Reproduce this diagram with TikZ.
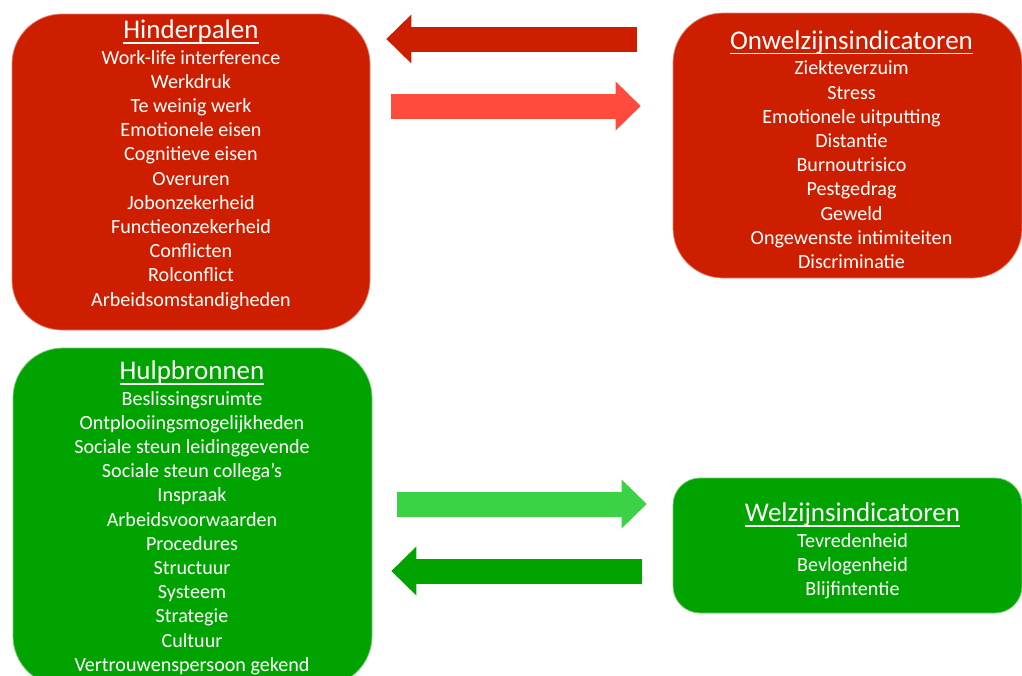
\documentclass[tikz,border=0pt]{standalone}
\usepackage{fontspec}
\setmainfont{Carlito}
\usetikzlibrary{arrows.meta,positioning}
\definecolor{hinderred}{RGB}{205,30,0}
\definecolor{lightred}{RGB}{255,75,62}
\definecolor{hulpgreen}{RGB}{0,163,0}
\definecolor{lightgreen}{RGB}{60,210,70}
\tikzstyle{redbox} = [rectangle, rounded corners=50pt, fill=hinderred, draw=hinderred!55!white, line width=0.75pt]
\tikzstyle{greenbox} = [rectangle, rounded corners=50pt, fill=hulpgreen, draw=hulpgreen!55!white, line width=0.75pt]
\tikzstyle{list} = [text=white, align=center, inner sep=0pt, anchor=north, font=\fontsize{20.1}{24.2}\selectfont]
\tikzstyle{blockarrow} = [line width=25pt, -{Triangle[length=25pt,width=49pt,line width=0pt]}]
\newsavebox\titlebox
\newcommand{\boxtitle}[1]{\sbox\titlebox{\fontsize{27}{24.2}\selectfont #1}\rlap{\rule[-4.6pt]{\wd\titlebox}{1.4pt}}\usebox\titlebox}

\begin{document}
\begin{tikzpicture}[x=1pt,y=-1pt]
  \useasboundingbox (0,0) rectangle (1022,675);

  \node[redbox, minimum width=358pt, minimum height=316pt] (hinder) at (191,172) {};
  \node[redbox, minimum width=349pt, minimum height=265pt] (onw) at (847.5,145.5) {};
  \node[greenbox, minimum width=359pt, minimum height=338pt] (hulp) at (192.5,517) {};
  \node[greenbox, rounded corners=27pt, minimum width=349pt, minimum height=135pt] (welz) at (847.5,545.5) {};

  \node[list] (hinderlist) at (191,20) {\boxtitle{Hinderpalen}\\[1pt]
    Work-life interference\\ Werkdruk\\ Te weinig werk\\ Emotionele eisen\\
    Cognitieve eisen\\ Overuren\\ Jobonzekerheid\\ Functieonzekerheid\\
    Conflicten\\ Rolconflict\\ Arbeidsomstandigheden};
  \node[list] (onwlist) at (851.5,30.7) {\boxtitle{Onwelzijnsindicatoren}\\[1pt]
    Ziekteverzuim\\ Stress\\ Emotionele uitputting\\ Distantie\\ Burnoutrisico\\
    Pestgedrag\\ Geweld\\ Ongewenste intimiteiten\\ Discriminatie};
  \node[list] (hulplist) at (192,361) {\boxtitle{Hulpbronnen}\\[1pt]
    Beslissingsruimte\\ Ontplooiingsmogelijkheden\\ Sociale steun leidinggevende\\
    Sociale steun collega’s\\ Inspraak\\ Arbeidsvoorwaarden\\ Procedures\\
    Structuur\\ Systeem\\ Strategie\\ Cultuur\\ Vertrouwenspersoon gekend};
  \node[list] (welzlist) at (852.5,503) {\boxtitle{Welzijnsindicatoren}\\[1pt]
    Tevredenheid\\ Bevlogenheid\\ Blijfintentie};

  % arrows between the boxes
  \draw[blockarrow, hinderred, shorten <=36pt, shorten >=16pt] (onw.west |- 0,39) -- (hinder.east |- 0,39);
  \draw[blockarrow, lightred, shorten <=21pt, shorten >=32pt] (hinder.east |- 0,106) -- (onw.west |- 0,106);
  \draw[blockarrow, lightgreen, shorten <=25pt, shorten >=26pt] (hulp.east |- 0,504) -- (welz.west |- 0,504);
  \draw[blockarrow, hulpgreen, shorten <=31pt, shorten >=19pt] (welz.west |- 0,571) -- (hulp.east |- 0,571);
\end{tikzpicture}
\end{document}
